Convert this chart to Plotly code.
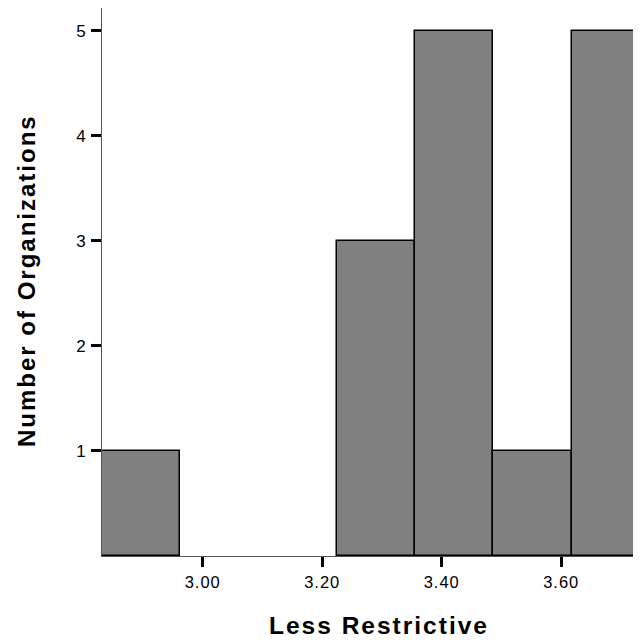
import plotly.graph_objects as go

# Histogram data
bin_start = 2.8315
bin_width = 0.1310
counts = [1, 0, 0, 3, 5, 1, 5]
x_tick_vals = [3.00, 3.20, 3.40, 3.60]
x_tick_text = ["3.00", "3.20", "3.40", "3.60"]
y_tick_vals = [1, 2, 3, 4, 5]
y_tick_text = ["1", "2", "3", "4", "5"]
x_title = "Less Restrictive"
y_title = "Number of Organizations"

left_edges = [bin_start + i * bin_width for i in range(len(counts))]
outline_widths = [1.5 if c > 0 else 0 for c in counts]


def spaced(t, px):
    return '<span style="letter-spacing:%spx">%s</span>' % (px, t)


fig = go.Figure(
    go.Bar(
        x=left_edges,
        y=counts,
        width=[bin_width] * len(counts),
        offset=0,
        marker=dict(color="#808080", line=dict(color="black", width=outline_widths)),
    )
)

font_family = "Liberation Sans, Arial, sans-serif"

# page body adds 8px margin; plot area should sit at page x=102..(beyond 641), y=8..556
PW = 547.0
PH = 548.0

fig.update_layout(
    width=641,
    height=641,
    margin=dict(l=94, r=0, t=0, b=93, pad=0),
    paper_bgcolor="white",
    plot_bgcolor="white",
    showlegend=False,
    bargap=0,
    font=dict(family=font_family, color="black", size=16),
    xaxis=dict(
        range=[2.8315, 3.7469],
        tickvals=x_tick_vals,
        ticktext=[spaced(t, 1) for t in x_tick_text],
        ticks="outside",
        ticklen=10,
        tickwidth=3,
        tickcolor="black",
        showline=True,
        linecolor="#555555",
        linewidth=1,
        mirror=True,
        showgrid=False,
        zeroline=False,
        tickfont=dict(size=16.5, family=font_family),
        ticklabelstandoff=1,
    ),
    yaxis=dict(
        range=[0, 5.216],
        tickvals=y_tick_vals,
        ticktext=y_tick_text,
        ticks="outside",
        ticklen=10,
        tickwidth=3,
        tickcolor="black",
        showline=True,
        linecolor="#555555",
        linewidth=1,
        mirror=False,
        showgrid=False,
        zeroline=False,
        tickfont=dict(size=17, family=font_family),
        ticklabelstandoff=2,
    ),
    annotations=[
        dict(
            text=spaced("<b>" + x_title + "</b>", 2),
            xref="paper", yref="paper",
            x=(379 - 102) / PW, y=-(625 - 556) / PH,
            xanchor="center", yanchor="middle",
            showarrow=False,
            font=dict(size=24.5, family=font_family, color="black"),
        ),
        dict(
            text=spaced("<b>" + y_title + "</b>", 2),
            xref="paper", yref="paper",
            x=-(102 - 26) / PW, y=(556 - 281) / PH,
            xanchor="center", yanchor="middle",
            textangle=-90,
            showarrow=False,
            font=dict(size=24, family=font_family, color="black"),
        ),
    ],
)

fig.write_html("out.html")
